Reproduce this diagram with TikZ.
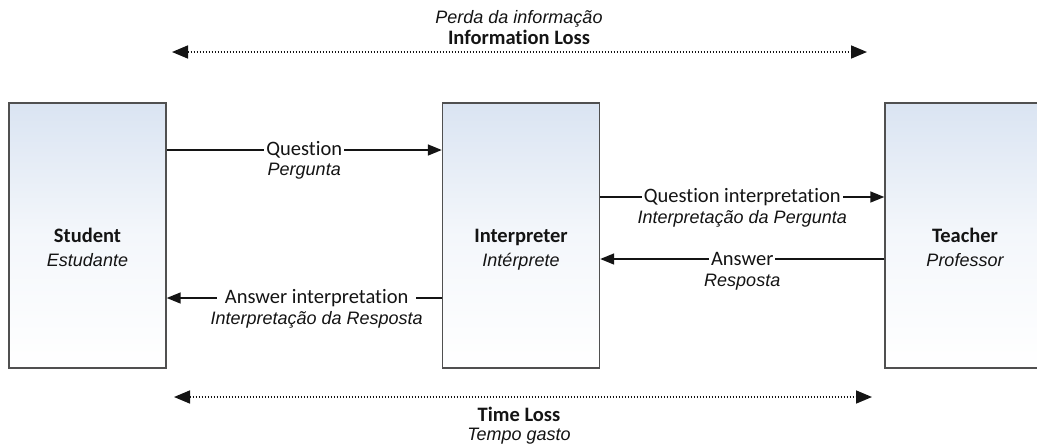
\documentclass[tikz,border=0pt]{standalone}
\usepackage{fontspec}
\setmainfont{Carlito}[Ligatures=NoCommon]
\newfontfamily\ptfont{Liberation Sans}
\usetikzlibrary{arrows.meta,positioning}
\definecolor{boxline}{RGB}{80,80,80}
\definecolor{boxblue}{RGB}{218,228,242}
\definecolor{ink}{RGB}{20,20,20}
\tikzset{
  box/.style={draw=boxline, line width=1.4pt, top color=boxblue, bottom color=white,
    middle color=boxblue!30!white,
    minimum width=157pt, minimum height=265pt, inner sep=0pt},
  en/.style={font=\fontsize{20.5}{24}\selectfont, text=ink, inner sep=1pt},
  enb/.style={font=\bfseries\fontsize{20.5}{24}\selectfont, text=ink, inner sep=1pt},
  ptl/.style={font=\ptfont\itshape\fontsize{18}{22}\selectfont, text=ink, inner sep=1pt},
  onl/.style={en, fill=white, inner xsep=2pt},
  arr/.style={draw=ink, line width=1.5pt, -{Triangle[length=14pt,width=11pt]}},
  loss/.style={draw=ink, line width=1.6pt, dash pattern=on 1.6pt off 1.4pt,
    {Triangle[length=16pt,width=13pt]}-{Triangle[length=16pt,width=13pt]}}
}
\begin{document}
\begin{tikzpicture}[x=1pt,y=-1pt]
\clip (0,0) rectangle (1037,445);
\fill[white] (0,0) rectangle (1037,445);
% boxes
\node[box] (s) at (87.5,235.5) {};
\node[box] (i) at (521,235.5) {};
\node[box, minimum width=162pt] (t) at (966,235.5) {};
% box texts
\node[enb, anchor=base] (st) at (87.5,242) {Student};
\node[ptl, anchor=base] (st2) at (87.5,266) {Estudante};
\node[enb, anchor=base] (it) at (521,242) {Interpreter};
\node[ptl, anchor=base] (it2) at (521,266) {Intérprete};
\node[enb, anchor=base] (tt) at (965,242) {Teacher};
\node[ptl, anchor=base] (tt2) at (965,266) {Professor};
% Question
\draw[arr] (s.east |- 0,150) -- node[onl, pos=0.5] (q) {Question} (i.west |- 0,150);
\node[ptl, anchor=base] (q2) at ([yshift=-20pt]q.base) {Pergunta};
% Question interpretation
\draw[arr] (i.east |- 0,197) -- node[onl, pos=0.5] (qi) {Question interpretation} (t.west |- 0,197);
\node[ptl, anchor=base] (qi2) at ([yshift=-21pt]qi.base) {Interpretação da Pergunta};
% Answer
\draw[arr] (t.west |- 0,259) -- node[onl, pos=0.5] (a) {Answer} (i.east |- 0,259);
\node[ptl, anchor=base] (a2) at ([yshift=-21pt]a.base) {Resposta};
% Answer interpretation
\draw[arr] (i.west |- 0,298) -- node[onl, pos=0.455, inner xsep=8pt] (ai) {Answer interpretation} (s.east |- 0,298);
\node[ptl, anchor=base] (ai2) at ([yshift=-21pt]ai.base) {Interpretação da Resposta};
% Information loss
\coordinate (il1) at (172,52);
\coordinate (il2) at (867,52);
\draw[loss] (il1) -- (il2);
\node[ptl, anchor=base] (pi) at (519,23) {Perda da informação};
\node[enb, anchor=base] (ilt) at (519,44) {Information Loss};
% Time loss
\coordinate (tl1) at (174,397);
\coordinate (tl2) at (872,397);
\draw[loss] (tl1) -- (tl2);
\node[enb, anchor=base] (tlt) at (519,421) {Time Loss};
\node[ptl, anchor=base] (tg) at (519,440) {Tempo gasto};
\end{tikzpicture}
\end{document}
